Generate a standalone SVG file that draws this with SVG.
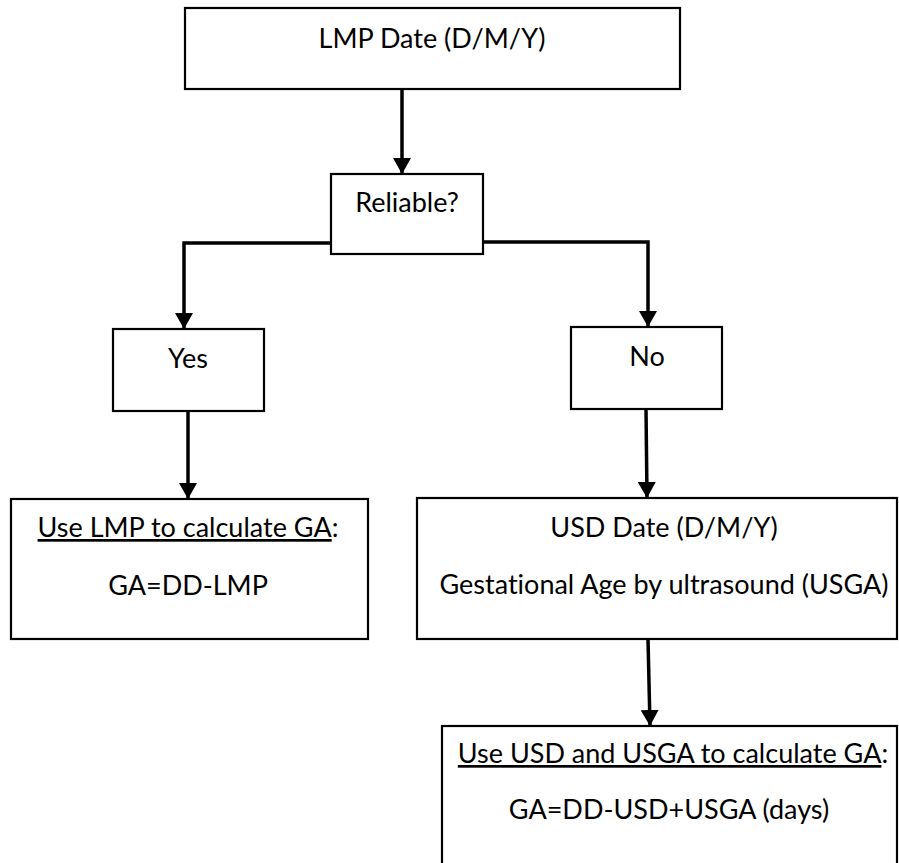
<svg xmlns="http://www.w3.org/2000/svg" width="899" height="863" viewBox="0 0 899 863">
<style>
.box{fill:#fff;stroke:#000;stroke-width:2.2}
.t{font-family:Lato,"Liberation Sans",sans-serif;font-size:27px;fill:#000;text-anchor:middle;font-variant-ligatures:none}
.c{fill:none;stroke:#000;stroke-width:3.5;marker-end:url(#ah)}
</style>
<defs>
<marker id="ah" markerUnits="userSpaceOnUse" viewBox="0 0 16 18" markerWidth="16" markerHeight="18" refX="16" refY="9" orient="auto">
<path d="M0,0 L16,9 L0,18 z" fill="#000"/>
</marker>
</defs>
<rect width="899" height="863" fill="#fff"/>
<g id="connectors">
<path class="c" d="M402,89 L402,174"/>
<path class="c" d="M331,243 L184,243 L184,329"/>
<path class="c" d="M483,242 L648,242 L648,327"/>
<path class="c" d="M188,411 L188,499"/>
<path class="c" d="M646,409 L647,498"/>
<path class="c" d="M648,639 L650,726"/>
</g>
<g id="lmp">
<rect class="box" x="185" y="8" width="495" height="81"/>
<text class="t" x="432" y="48">LMP Date (D/M/Y)</text>
</g>
<g id="reliable">
<rect class="box" x="331" y="174" width="152" height="80"/>
<text class="t" x="407" y="212">Reliable?</text>
</g>
<g id="yes">
<rect class="box" x="113" y="329" width="151" height="82"/>
<text class="t" x="188" y="368">Yes</text>
</g>
<g id="no">
<rect class="box" x="571" y="327" width="151" height="82"/>
<text class="t" x="647" y="366">No</text>
</g>
<g id="use-lmp">
<rect class="box" x="11" y="499" width="357" height="140"/>
<text class="t" x="188" y="537"><tspan text-decoration="underline">Use LMP to calculate GA</tspan>:</text>
<text class="t" x="188" y="595">GA=DD-LMP</text>
</g>
<g id="usd">
<rect class="box" x="417" y="498" width="480" height="141"/>
<text class="t" x="664" y="537">USD Date (D/M/Y)</text>
<text class="t" x="664" y="594">Gestational Age by ultrasound (USGA)</text>
</g>
<g id="use-usd">
<rect class="box" x="442" y="726" width="455" height="150"/>
<text class="t" x="673" y="763"><tspan text-decoration="underline">Use USD and USGA to calculate GA</tspan>:</text>
<text class="t" x="669" y="819">GA=DD-USD+USGA (days)</text>
</g>
</svg>
